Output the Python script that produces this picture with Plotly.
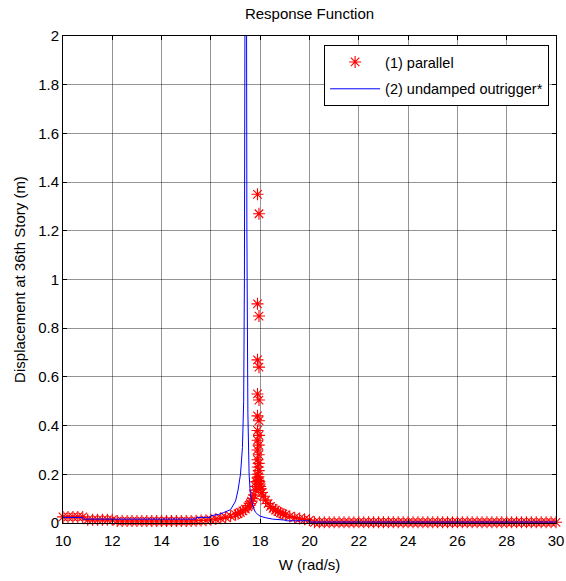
import plotly.graph_objects as go

# ---- data ----
red_w = [10.0, 10.2, 10.4, 10.6, 10.8,
         11.0, 11.2, 11.4, 11.6, 11.8, 12.0,
         12.2, 12.4, 12.6, 12.8, 13.0, 13.2, 13.4, 13.6, 13.8, 14.0,
         14.2, 14.4, 14.6, 14.8, 15.0, 15.2, 15.4, 15.6, 15.8,
         16.0, 16.2, 16.4, 16.6, 16.8, 17.0, 17.1, 17.2, 17.3, 17.4,
         17.5, 17.55, 17.6, 17.65, 17.7, 17.75, 17.8, 17.82, 17.84,
         17.89, 17.95, 17.89, 17.95, 17.89, 17.95, 17.89, 17.95, 17.89, 17.95,
         17.89, 17.95, 17.89, 17.94, 17.89, 17.94, 17.89, 17.94, 17.9, 17.94,
         17.9, 17.93, 17.9, 17.93,
         17.96, 17.98, 18.0, 18.02, 18.07, 18.12, 18.22, 18.32, 18.42, 18.52,
         18.62, 18.72, 18.82, 18.92, 19.02, 19.2, 19.4, 19.6, 19.8, 20.0,
         20.2, 20.4, 20.6, 20.8, 21.0, 21.2, 21.4, 21.6, 21.8, 22.0,
         22.2, 22.4, 22.6, 22.8, 23.0, 23.2, 23.4, 23.6, 23.8, 24.0,
         24.2, 24.4, 24.6, 24.8, 25.0, 25.2, 25.4, 25.6, 25.8, 26.0,
         26.2, 26.4, 26.6, 26.8, 27.0, 27.2, 27.4, 27.6, 27.8, 28.0,
         28.2, 28.4, 28.6, 28.8, 29.0, 29.2, 29.4, 29.6, 29.8, 30.0]
red_disp = [0.025, 0.025, 0.025, 0.025, 0.025,
            0.013, 0.013, 0.013, 0.013, 0.013, 0.013,
            0.008, 0.008, 0.008, 0.008, 0.008, 0.008, 0.008, 0.008, 0.008, 0.008,
            0.008, 0.008, 0.008, 0.008, 0.008, 0.008, 0.009, 0.010, 0.011,
            0.013, 0.016, 0.019, 0.023, 0.028, 0.034, 0.038, 0.044, 0.050, 0.057,
            0.066, 0.072, 0.080, 0.090, 0.100, 0.115, 0.135, 0.150, 0.170,
            1.35, 1.27, 0.90, 0.85, 0.67, 0.64, 0.53, 0.505, 0.44, 0.42,
            0.38, 0.36, 0.34, 0.32, 0.30, 0.28, 0.26, 0.245, 0.23, 0.215,
            0.20, 0.19, 0.185, 0.175,
            0.17, 0.16, 0.15, 0.14, 0.125, 0.11, 0.094, 0.08, 0.068, 0.060,
            0.053, 0.047, 0.042, 0.037, 0.033, 0.027, 0.022, 0.018, 0.015, 0.012,
            0.003, 0.003, 0.003, 0.003, 0.003, 0.003, 0.003, 0.003, 0.003, 0.003,
            0.003, 0.003, 0.003, 0.003, 0.003, 0.003, 0.003, 0.003, 0.003, 0.003,
            0.003, 0.003, 0.003, 0.003, 0.003, 0.003, 0.003, 0.003, 0.003, 0.003,
            0.003, 0.003, 0.003, 0.003, 0.003, 0.003, 0.003, 0.003, 0.003, 0.003,
            0.003, 0.003, 0.003, 0.003, 0.003, 0.003, 0.003, 0.003, 0.003, 0.003]

blue_w = [10.0, 10.8, 10.81, 15.4, 15.41, 15.99, 16.0, 16.3, 16.5, 16.8,
          17.0, 17.1, 17.2, 17.28, 17.33, 17.36, 17.39, 17.42, 17.44, 17.46,
          17.48, 17.5, 17.55, 17.6, 17.7, 17.8, 17.9, 18.0, 18.2, 18.5,
          19.0, 19.05, 19.99, 20.0, 30.0]
blue_disp = [0.023, 0.023, 0.016, 0.016, 0.023, 0.023, 0.030, 0.035, 0.042, 0.055,
             0.090, 0.135, 0.200, 0.310, 0.500, 1.000, 2.500, 5.000, 2.500, 1.200,
             0.700, 0.450, 0.200, 0.120, 0.070, 0.045, 0.035, 0.028, 0.022, 0.016,
             0.012, 0.009, 0.009, 0.004, 0.004]

x_ticks = [10, 12, 14, 16, 18, 20, 22, 24, 26, 28, 30]
y_ticks = [0, 0.2, 0.4, 0.6, 0.8, 1, 1.2, 1.4, 1.6, 1.8, 2]
y_tick_text = ["0", "0.2", "0.4", "0.6", "0.8", "1", "1.2", "1.4", "1.6", "1.8", "2"]

FONT = "Arial, Liberation Sans, sans-serif"

fig = go.Figure()
fig.add_trace(go.Scatter(
    x=red_w, y=red_disp, mode="markers", name="(1) parallel",
    marker=dict(symbol="asterisk-open", size=10, color="#ff0000",
                line=dict(color="#ff0000", width=1.1)),
    cliponaxis=False, legendgroup="a"))
fig.add_trace(go.Scatter(
    x=blue_w, y=blue_disp, mode="lines", name="(2) undamped outrigger*",
    line=dict(color="#0000ff", width=1), cliponaxis=True, legendgroup="b"))

axis_common = dict(showline=True, linecolor="black", linewidth=1, mirror="allticks",
                   ticks="inside", ticklen=4, tickcolor="black", automargin=False,
                   showgrid=True, gridcolor="rgba(0,0,0,0.42)", gridwidth=1,
                   zeroline=False, tickfont=dict(family=FONT, size=15, color="black"))

fig.update_xaxes(range=[10, 30], tickvals=x_ticks, ticklabelstandoff=4,
                 title=dict(text="W (rad/s)", font=dict(family=FONT, size=15, color="black"),
                            standoff=11),
                 **axis_common)
fig.update_yaxes(range=[0, 2], tickvals=y_ticks, ticktext=y_tick_text,
                 title=dict(text="Displacement at 36th Story (m)",
                            font=dict(family=FONT, size=15, color="black"), standoff=8),
                 **axis_common)

fig.update_layout(
    width=566, height=581,
    margin=dict(l=63, r=10, t=36, b=58, autoexpand=False),
    paper_bgcolor="white", plot_bgcolor="white",
    font=dict(family=FONT, size=15, color="black"),
    title=dict(text="Response Function", x=0.5, xref="paper", xanchor="center",
               y=1 - 14 / 581, yref="container", yanchor="middle",
               font=dict(family=FONT, size=15, color="black")),
    showlegend=True,
    legend=dict(x=0.986, xanchor="right", y=0.9815, yanchor="top",
                bgcolor="white", bordercolor="black", borderwidth=1,
                font=dict(family=FONT, size=14.5, color="black"),
                tracegroupgap=5, traceorder="grouped", itemwidth=50),
)

fig.write_html("out.html",
               config={"displayModeBar": False},
               post_script="document.body.style.margin='0px';"
                           "document.body.style.overflow='hidden';")
